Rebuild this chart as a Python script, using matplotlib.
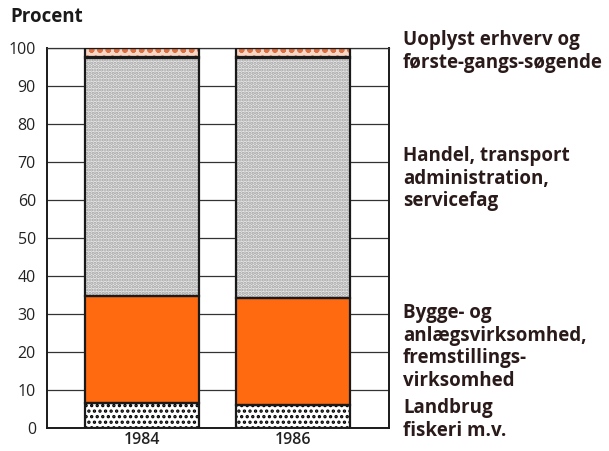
import matplotlib.pyplot as plt
import numpy as np

plt.rcParams['font.family'] = ['Open Sans', 'DejaVu Sans']
plt.rcParams['hatch.linewidth'] = 1.6

years = ['1984', '1986']
landbrug = [6.6, 6.1]
bygge = [28.2, 28.2]
handel = [62.7, 63.2]
uoplyst = [2.5, 2.5]

labels = [
    'Landbrug\nfiskeri m.v.',
    'Bygge- og\nanlægsvirksomhed,\nfremstillings-\nvirksomhed',
    'Handel, transport\nadministration,\nservicefag',
    'Uoplyst erhverv og\nførste-gangs-søgende',
]
label_y = [398, 303, 146, 30]  # pixel tops

fig = plt.figure(figsize=(6.09, 4.51), dpi=100)
ax = fig.add_axes([47 / 609, 1 - 428 / 451, 342 / 609, 380 / 451])

x = np.arange(len(years))
w = 0.755
segs = [
    (landbrug, 'white', 'black', '...'),
    (bygge, '#ff6a10', None, None),
    (handel, '#e8e8e8', '#a0a0a0', '.....'),
    (uoplyst, '#f6d8c8', '#e07040', 'oo'),
]
bottom = np.zeros(len(years))
for vals, fc, hc, hatch in segs:
    vals = np.array(vals)
    if hatch:
        ax.bar(x, vals, w, bottom=bottom, color=fc, edgecolor=hc,
               hatch=hatch, linewidth=0, zorder=2)
    else:
        ax.bar(x, vals, w, bottom=bottom, color=fc, linewidth=0, zorder=2)
    ax.bar(x, vals, w, bottom=bottom, fill=False, edgecolor='#1a1a1a',
           linewidth=1.6, zorder=3)
    bottom += vals

ax.set_xlim(-0.629, 1.636)
ax.set_ylim(0, 100)
ax.set_yticks(range(0, 101, 10))
ax.yaxis.grid(True, color='#333333', linewidth=0.9, zorder=0)
ax.set_axisbelow(True)
ax.tick_params(axis='y', length=0, labelsize=11.5, colors='#222222', pad=8)
ax.set_xticks(x)
ax.set_xticklabels(years, fontsize=11.5, fontweight='semibold', color='#222222')
ax.tick_params(axis='x', length=0, pad=3)
for s in ['left', 'bottom', 'right']:
    ax.spines[s].set_linewidth(1.4)
    ax.spines[s].set_color('#1a1a1a')
ax.spines['top'].set_linewidth(0.9)
ax.spines['top'].set_color('#333333')

fig.text(10 / 609, 1 - 7 / 451, 'Procent', fontsize=13.5, fontweight='bold',
         va='top', ha='left', color='#1a1a1a')

for lab, py in zip(labels, label_y):
    fig.text(403 / 609, 1 - py / 451, lab, fontsize=13.5, fontweight='bold',
             va='top', ha='left', color='#2a1a1a', linespacing=1.18)

fig.savefig('out.png', dpi=100)
